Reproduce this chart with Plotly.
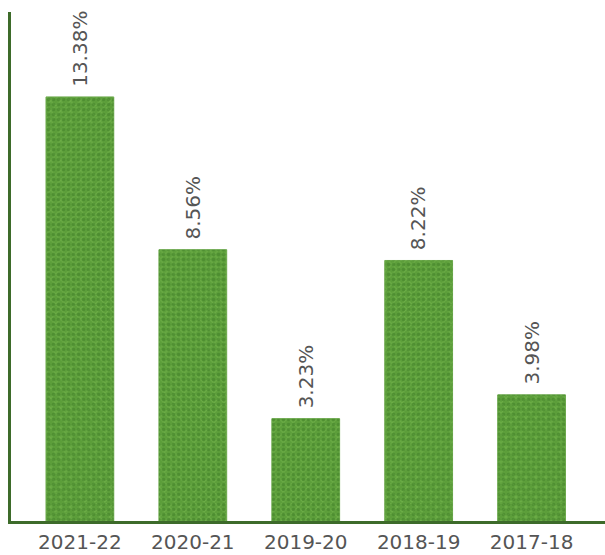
import plotly.graph_objects as go

# Growth by financial year
years = ["2021-22", "2020-21", "2019-20", "2018-19", "2017-18"]
growth = [13.38, 8.56, 3.23, 8.22, 3.98]
labels = [f"{v:.2f}%" for v in growth]

AXIS_GREEN = "#3d6b2a"
TEXT_GREY = "#555555"
FONT = "DejaVu Sans"

fig = go.Figure()

# grass-like fill built from a base colour and overlaid patterns
fig.add_trace(go.Bar(
    x=years, y=growth, width=0.6,
    marker=dict(color="#5c9e3a", line=dict(width=1, color="#6aa84a")),
    hoverinfo="skip", showlegend=False,
))
fig.add_trace(go.Bar(
    x=years, y=growth, width=0.6,
    marker=dict(
        color="rgba(0,0,0,0)", line=dict(width=0),
        pattern=dict(shape="x", fgcolor="rgba(135,200,90,0.7)", bgcolor="rgba(0,0,0,0)",
                     size=7, solidity=0.3, fillmode="overlay"),
    ),
    hoverinfo="skip", showlegend=False,
))
fig.add_trace(go.Bar(
    x=years, y=growth, width=0.6,
    marker=dict(
        color="rgba(0,0,0,0)", line=dict(width=0),
        pattern=dict(shape=".", fgcolor="rgba(50,110,30,0.7)", bgcolor="rgba(0,0,0,0)",
                     size=5, solidity=0.4, fillmode="overlay"),
    ),
    hoverinfo="skip", showlegend=False,
))

for yr, v, t in zip(years, growth, labels):
    fig.add_annotation(
        x=yr, y=v, text=t, textangle=-90, showarrow=False,
        xanchor="center", yanchor="bottom", yshift=8,
        font=dict(family=FONT, size=20, color=TEXT_GREY),
    )

fig.update_layout(
    width=605, height=555,
    margin=dict(l=11, r=0, t=12, b=34),
    barmode="overlay",
    paper_bgcolor="white", plot_bgcolor="white",
    xaxis=dict(
        range=[-0.61, 4.65], showgrid=False, zeroline=False,
        showline=True, linecolor=AXIS_GREEN, linewidth=3,
        ticks="", ticklabelstandoff=1, automargin=False,
        tickfont=dict(family=FONT, size=20, color=TEXT_GREY),
    ),
    yaxis=dict(
        range=[0, 16.06], showgrid=False, zeroline=False,
        showline=True, linecolor=AXIS_GREEN, linewidth=3,
        showticklabels=False, ticks="", automargin=False,
    ),
)

fig.write_html("out.html")
